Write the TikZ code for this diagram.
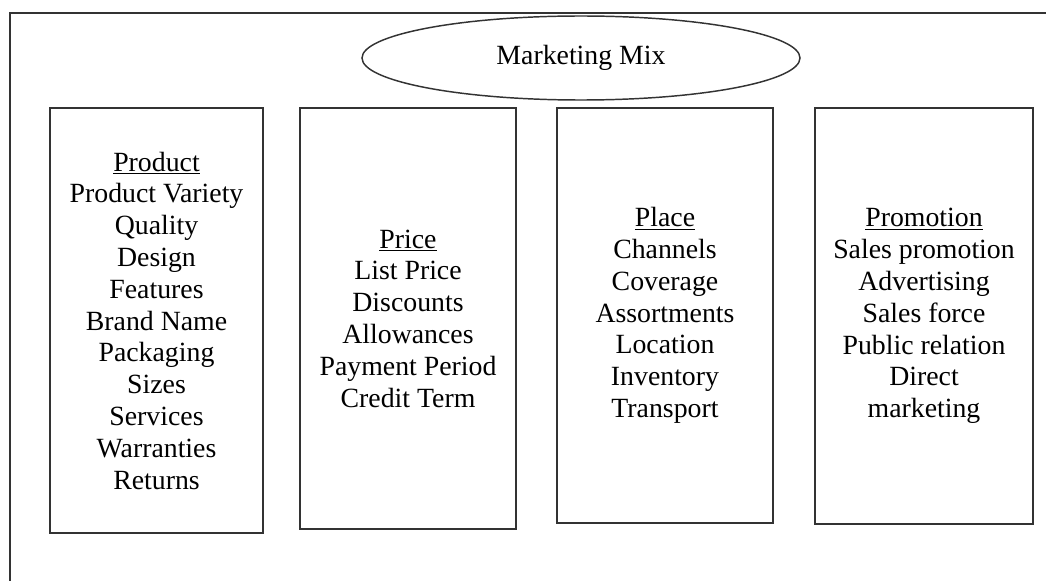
\documentclass[tikz,border=0pt]{standalone}
\usepackage{fontspec}
\setmainfont{Liberation Serif}
\usetikzlibrary{shapes.geometric}
\begin{document}
\begin{tikzpicture}[x=0.75pt,y=-0.75pt,
  frameline/.style={draw=black!80, line width=1.1pt},
  bodytext/.style={font=\fontsize{20.85}{23.85}\selectfont, text=black},
  mixbox/.style={bodytext, draw=black!80, line width=1.1pt, rectangle,
                 inner sep=0pt, align=center},
  mixtitle/.style={bodytext, draw=black!80, line width=1.1pt, ellipse,
                   inner sep=0pt, minimum width=328.5pt, minimum height=63pt}]
\path[use as bounding box] (0,0) rectangle (1046,581);
% open frame: only the left and top sides show
\draw[frameline] (10,581) -- (10,13) -- (1046,13);
% heading
\node[mixtitle] (mix) at (581,58) {Marketing Mix};
% the four P columns
\node[mixbox, minimum width=159.75pt, minimum height=318.75pt] (product) at (156.5,320.5)
  {\underline{Product}\\Product Variety\\Quality\\Design\\Features\\Brand Name\\Packaging\\Sizes\\Services\\Warranties\\Returns};
\node[mixbox, minimum width=162pt, minimum height=315.75pt] (price) at (408,318.5)
  {\underline{Price}\\List Price\\Discounts\\Allowances\\Payment Period\\Credit Term};
\node[mixbox, minimum width=162pt, minimum height=311.25pt] (place) at (665,315.5)
  {\underline{Place}\\Channels\\Coverage\\Assortments\\Location\\Inventory\\Transport};
\node[mixbox, minimum width=163.5pt, minimum height=312pt] (promotion) at (924,316)
  {\underline{Promotion}\\Sales promotion\\Advertising\\Sales force\\Public relation\\Direct\\marketing};
\end{tikzpicture}
\end{document}
